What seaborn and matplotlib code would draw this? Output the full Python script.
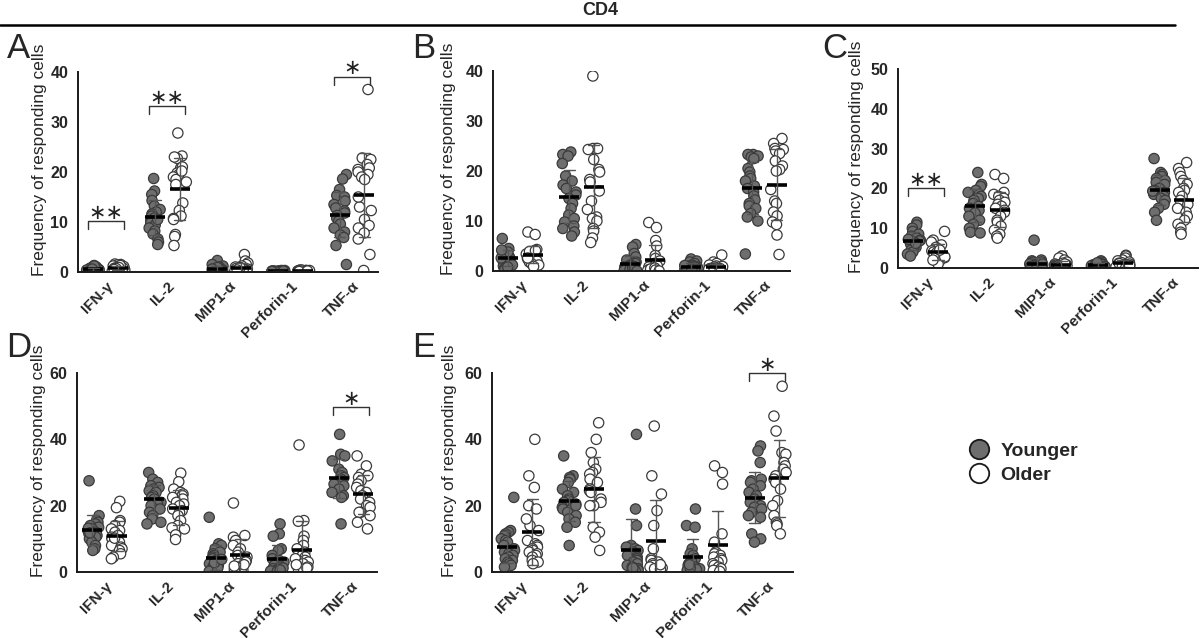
import numpy as np
import pandas as pd
import seaborn as sns
import matplotlib.pyplot as plt
from matplotlib.lines import Line2D

cytokines = ['IFN-γ', 'IL-2', 'MIP1-α', 'Perforin-1', 'TNF-α']
groups = ['Younger', 'Older']
panels = ['A', 'B', 'C', 'D', 'E']
y_max = [40, 40, 50, 60, 60]
y_step = [10, 10, 10, 20, 20]

# ---- panel A ----
A_ifng_y = [1.3, 1.0, 0.8, 0.6, 0.5, 0.4, 0.3, 0.3, 0.2, 0.2, 0.1, 0.1, 0.5, 0.7, 0.2, 0.9, 0.4, 1.2, 0.3, 0.6]
A_ifng_o = [1.6, 1.5, 1.4, 1.2, 1.0, 0.9, 0.8, 0.7, 0.6, 0.5, 0.4, 0.3, 1.1, 0.8, 0.6, 0.2, 1.3, 0.9, 0.7, 0.5]
A_il2_y = [18.7, 16.2, 15.5, 14.3, 13.2, 12.5, 12.0, 11.6, 11.2, 10.8, 10.3, 9.8, 9.4, 8.8, 8.2, 7.6, 6.6, 6.0, 5.5, 10.5]
A_il2_o = [27.8, 23.2, 22.7, 20.8, 19.8, 19.5, 19.0, 18.5, 18.0, 17.5, 21.0, 20.2, 13.8, 12.3, 11.2, 10.7, 10.5, 7.5, 7.1, 5.3, 23.0]
A_mip_y = [2.3, 1.5, 1.2, 1.0, 0.8, 0.6, 0.5, 0.4, 0.3, 0.2, 0.1, 0.1, 0.3, 0.5, 0.2, 0.7, 0.4, 0.9, 0.1, 0.6]
A_mip_o = [3.5, 2.2, 1.8, 1.5, 1.2, 1.0, 0.8, 0.6, 0.5, 0.4, 0.3, 0.2, 0.1, 0.1, 0.3, 0.5, 0.7, 0.9, 0.2, 0.4]
A_prf_y = [0.3, 0.2, 0.2, 0.1, 0.1, 0.1, 0.0, 0.0, 0.2, 0.1, 0.3, 0.1, 0.0, 0.2, 0.1, 0.1, 0.2, 0.0, 0.1, 0.2]
A_prf_o = [0.4, 0.3, 0.2, 0.2, 0.1, 0.1, 0.0, 0.3, 0.2, 0.1, 0.4, 0.1, 0.0, 0.2, 0.1, 0.3, 0.2, 0.0, 0.1, 0.2]
A_tnf_y = [19.5, 18.6, 16.5, 15.3, 15.0, 14.2, 13.5, 12.8, 12.2, 11.8, 11.3, 10.8, 10.2, 9.6, 8.8, 8.0, 7.4, 6.9, 5.3, 1.5]
A_tnf_o = [36.5, 22.8, 22.5, 21.5, 20.8, 20.5, 20.0, 19.5, 19.0, 18.5, 13.0, 12.3, 10.5, 9.3, 8.8, 7.8, 6.6, 3.5, 0.3, 15.0]

# ---- panel B ----
B_ifng_y = [6.5, 4.5, 4.0, 3.5, 3.2, 3.0, 2.8, 2.5, 2.2, 2.0, 1.8, 1.5, 1.2, 1.0, 0.5, 0.2, 3.8, 2.6, 4.2, 0.8]
B_ifng_o = [7.8, 7.3, 4.3, 4.0, 3.8, 3.6, 3.4, 3.2, 3.0, 2.8, 2.5, 2.2, 2.0, 1.8, 1.5, 1.2, 3.9, 2.6, 4.1, 0.9]
B_il2_y = [23.8, 23.3, 23.0, 21.5, 19.0, 18.0, 17.2, 16.5, 15.8, 15.2, 14.5, 13.5, 12.5, 11.2, 10.5, 9.8, 9.0, 8.5, 7.8, 7.0]
B_il2_o = [39.0, 24.5, 24.5, 24.5, 24.3, 22.3, 20.3, 19.8, 18.3, 17.8, 16.0, 14.0, 12.3, 10.8, 10.5, 10.0, 8.5, 8.0, 6.6, 5.7]
B_mip_y = [5.3, 4.8, 3.5, 2.8, 2.2, 1.8, 1.5, 1.2, 1.0, 0.8, 0.6, 0.5, 0.3, 0.2, 0.1, 0.1, 0.4, 0.7, 0.9, 0.0]
B_mip_o = [9.7, 8.7, 6.1, 5.0, 3.1, 2.5, 2.0, 1.5, 1.2, 1.0, 0.8, 0.5, 0.3, 0.2, 0.1, 0.1, 0.4, 0.6, 0.2, 0.0]
B_prf_y = [2.4, 2.0, 1.8, 1.5, 1.2, 1.0, 0.9, 0.8, 0.7, 0.6, 0.5, 0.4, 0.3, 0.2, 0.1, 1.1, 0.8, 0.6, 0.4, 0.3]
B_prf_o = [3.2, 1.8, 1.5, 1.2, 1.0, 0.8, 0.7, 0.6, 0.5, 0.4, 0.3, 0.2, 0.1, 0.1, 0.6, 0.4, 0.3, 0.2, 0.9, 0.5]
B_tnf_y = [23.3, 23.3, 23.0, 22.8, 22.5, 20.5, 19.8, 19.0, 18.5, 18.0, 17.0, 16.5, 15.8, 15.0, 14.2, 13.5, 13.0, 12.5, 11.5, 10.8, 10.0, 3.4]
B_tnf_o = [26.5, 25.5, 24.5, 24.3, 24.0, 23.5, 22.0, 21.0, 20.3, 20.0, 16.3, 14.0, 13.5, 11.8, 11.0, 9.8, 9.3, 7.2, 3.3]

# ---- panel C ----
C_ifng_y = [11.5, 10.8, 10.0, 9.2, 8.5, 8.0, 7.5, 7.0, 6.8, 6.5, 6.0, 5.5, 5.2, 4.8, 4.5, 4.0, 3.5, 3.0, 7.2, 6.2]
C_ifng_o = [9.2, 7.0, 6.5, 5.8, 5.2, 4.8, 4.3, 4.0, 3.6, 3.3, 3.0, 2.6, 2.2, 1.8, 1.5, 1.0, 3.8, 2.8, 4.5, 2.0]
C_il2_y = [24.0, 21.0, 20.5, 19.5, 19.0, 18.5, 18.0, 17.5, 17.0, 16.2, 15.5, 15.0, 14.5, 13.8, 13.0, 12.0, 11.0, 10.0, 9.0, 8.8]
C_il2_o = [23.5, 22.5, 19.0, 18.5, 18.0, 17.5, 17.0, 16.5, 16.0, 15.5, 15.0, 14.5, 14.0, 13.0, 12.0, 11.5, 10.5, 9.5, 8.5, 8.0, 7.5]
C_mip_y = [7.0, 2.0, 1.8, 1.5, 1.2, 1.0, 0.8, 0.6, 0.5, 0.4, 0.3, 0.2, 0.1, 0.8, 0.6, 0.4, 1.5, 0.3, 0.2, 1.0]
C_mip_o = [3.0, 2.5, 2.0, 1.5, 1.2, 1.0, 0.8, 0.6, 0.5, 0.4, 0.3, 0.2, 0.1, 0.8, 0.6, 0.4, 0.3, 0.2, 0.1, 1.0]
C_prf_y = [1.8, 1.5, 1.2, 1.0, 0.8, 0.7, 0.6, 0.5, 0.4, 0.3, 0.2, 0.1, 0.6, 0.5, 0.4, 0.9, 0.3, 0.2, 0.7, 1.3]
C_prf_o = [3.2, 3.0, 2.5, 2.0, 1.8, 1.5, 1.2, 1.0, 0.8, 0.6, 0.5, 0.4, 0.2, 1.3, 1.1, 0.9, 0.7, 0.3, 0.1, 0.6]
C_tnf_y = [27.5, 24.0, 23.5, 23.0, 22.5, 22.0, 21.5, 21.0, 20.0, 19.5, 19.0, 18.5, 18.0, 17.5, 17.0, 16.0, 15.0, 14.0, 12.0, 19.3]
C_tnf_o = [26.5, 25.0, 24.0, 23.0, 22.0, 21.0, 20.0, 19.5, 19.0, 18.0, 17.0, 16.0, 15.0, 14.0, 13.0, 12.0, 11.0, 10.0, 9.0, 8.5]

# ---- panel D ----
D_ifng_y = [27.5, 17.0, 15.5, 15.0, 14.5, 14.0, 13.5, 13.0, 12.5, 12.0, 11.5, 11.0, 10.5, 10.0, 9.0, 8.0, 7.0, 6.5, 13.2, 11.8]
D_ifng_o = [21.3, 19.4, 15.5, 15.0, 14.0, 13.0, 12.5, 12.0, 11.0, 10.5, 10.0, 9.5, 9.0, 8.0, 7.5, 7.0, 6.5, 5.5, 4.5, 4.0, 10.2]
D_il2_y = [30.0, 28.0, 27.0, 26.0, 25.5, 25.0, 24.5, 24.0, 23.0, 22.5, 22.0, 21.0, 20.5, 20.0, 19.0, 18.0, 17.0, 16.0, 15.0, 14.5]
D_il2_o = [29.8, 27.2, 25.0, 24.0, 23.5, 23.0, 22.5, 22.0, 21.0, 20.5, 20.0, 19.0, 18.5, 18.0, 17.0, 15.5, 14.0, 13.3, 13.0, 11.2, 9.8]
D_mip_y = [16.5, 8.5, 8.0, 7.0, 6.0, 5.5, 5.0, 4.5, 4.0, 3.5, 3.0, 2.5, 2.0, 1.5, 1.0, 0.5, 0.2, 1.2, 2.8, 3.8]
D_mip_o = [20.8, 11.0, 10.5, 9.5, 8.0, 7.0, 6.0, 5.0, 4.5, 4.0, 3.5, 3.0, 2.5, 2.0, 1.5, 1.0, 0.5, 0.2, 0.8, 1.8, 2.2]
D_prf_y = [14.5, 11.5, 10.8, 7.0, 6.5, 5.0, 4.0, 3.5, 3.0, 2.5, 2.0, 1.5, 1.0, 0.8, 0.5, 0.3, 0.1, 0.2, 1.2, 0.6]
D_prf_o = [38.3, 15.5, 15.3, 10.8, 9.5, 8.0, 7.0, 6.0, 5.0, 4.5, 4.0, 3.5, 3.0, 2.5, 2.0, 1.5, 1.0, 0.5, 0.8, 1.2, 2.2]
D_tnf_y = [41.5, 35.5, 35.0, 33.5, 31.0, 30.0, 29.0, 28.5, 28.0, 27.5, 27.0, 26.5, 26.0, 25.0, 24.0, 23.0, 22.5, 14.5]
D_tnf_o = [35.0, 32.0, 29.5, 29.0, 28.5, 27.5, 26.5, 25.5, 24.5, 24.0, 23.0, 22.0, 21.0, 20.0, 19.5, 18.0, 18.0, 17.0, 15.0, 13.0]

# ---- panel E ----
E_ifng_y = [22.5, 12.5, 12.0, 11.5, 11.0, 10.0, 9.5, 9.0, 8.0, 7.0, 6.5, 6.0, 5.5, 5.0, 4.5, 4.0, 3.5, 3.0, 2.5, 2.0, 1.5]
E_ifng_o = [40.0, 29.0, 25.5, 20.0, 19.0, 14.0, 12.5, 9.5, 8.5, 8.0, 7.5, 7.0, 6.5, 6.0, 5.5, 5.0, 4.5, 3.5, 3.0, 2.5, 16.0]
E_il2_y = [35.0, 29.0, 28.5, 28.0, 27.0, 25.0, 24.0, 23.0, 22.0, 21.5, 21.0, 20.5, 20.0, 19.5, 19.0, 18.0, 17.0, 16.0, 15.0, 13.5, 8.0]
E_il2_o = [45.0, 40.0, 36.0, 33.0, 31.0, 30.0, 29.5, 28.0, 27.0, 25.0, 24.5, 24.0, 22.0, 21.0, 20.0, 20.0, 13.5, 12.0, 10.5, 6.5]
E_mip_y = [41.5, 19.0, 14.0, 8.0, 7.5, 7.0, 6.5, 6.0, 5.0, 4.5, 4.0, 3.5, 3.0, 2.5, 2.0, 1.5, 1.0, 0.5, 0.3, 0.2, 1.2]
E_mip_o = [44.0, 29.0, 23.5, 18.5, 14.0, 7.0, 4.0, 3.5, 3.0, 2.5, 2.0, 1.8, 1.5, 1.2, 1.0, 0.8, 2.2]
E_prf_y = [19.0, 14.0, 13.5, 7.0, 5.5, 5.0, 4.0, 3.5, 3.0, 2.5, 2.0, 1.5, 1.0, 0.5, 0.3, 0.2, 0.8, 1.2, 2.2]
E_prf_o = [32.0, 30.0, 26.5, 11.5, 9.0, 6.0, 5.5, 5.0, 4.5, 4.0, 3.5, 3.0, 2.5, 2.0, 1.5, 1.0, 0.5, 0.2]
E_tnf_y = [38.0, 36.5, 33.0, 28.0, 27.5, 27.0, 26.0, 25.0, 24.0, 23.0, 22.0, 21.0, 20.0, 19.5, 19.0, 18.0, 17.0, 16.5, 11.5, 10.0, 9.0]
E_tnf_o = [56.0, 47.0, 42.5, 36.0, 35.5, 33.0, 32.0, 31.0, 30.0, 29.0, 28.0, 27.0, 25.0, 21.5, 20.0, 17.0, 15.0, 14.5, 14.0, 11.5]

# significance brackets
sig_panel = ['A', 'A', 'A', 'C', 'D', 'E']
sig_cytokine = ['IFN-γ', 'IL-2', 'TNF-α', 'IFN-γ', 'TNF-α', 'TNF-α']
sig_level = [10.2, 33.2, 39.1, 20.1, 49.7, 60.1]
sig_stars = ['∗∗', '∗∗', '∗', '∗∗', '∗', '∗']

panel_series = {
    'A': [A_ifng_y, A_ifng_o, A_il2_y, A_il2_o, A_mip_y, A_mip_o, A_prf_y, A_prf_o, A_tnf_y, A_tnf_o],
    'B': [B_ifng_y, B_ifng_o, B_il2_y, B_il2_o, B_mip_y, B_mip_o, B_prf_y, B_prf_o, B_tnf_y, B_tnf_o],
    'C': [C_ifng_y, C_ifng_o, C_il2_y, C_il2_o, C_mip_y, C_mip_o, C_prf_y, C_prf_o, C_tnf_y, C_tnf_o],
    'D': [D_ifng_y, D_ifng_o, D_il2_y, D_il2_o, D_mip_y, D_mip_o, D_prf_y, D_prf_o, D_tnf_y, D_tnf_o],
    'E': [E_ifng_y, E_ifng_o, E_il2_y, E_il2_o, E_mip_y, E_mip_o, E_prf_y, E_prf_o, E_tnf_y, E_tnf_o],
}


def panel_frame(series):
    rows = []
    for i, cyt in enumerate(cytokines):
        for j, grp in enumerate(groups):
            for v in series[2 * i + j]:
                rows.append((cyt, grp, v))
    return pd.DataFrame(rows, columns=['cytokine', 'group', 'value'])


sns.set_style('white')
plt.rcParams['font.family'] = ['Liberation Sans', 'DejaVu Sans']
np.random.seed(3)

W, H = 1200, 638
fig = plt.figure(figsize=(12, 6.38), dpi=100)

# axes boxes in pixels: left, bottom, width, height
boxes = {'A': (78, 272, 300, 200), 'B': (493, 271, 297, 200), 'C': (898, 268, 300, 199),
         'D': (77, 572, 300, 199), 'E': (492, 572, 301, 199)}
label_pos = {'A': (7, 58), 'B': (412, 58), 'C': (822, 58), 'D': (6, 357), 'E': (412, 357)}
ylabel_off = {'A': -31, 'B': -37, 'C': -34, 'D': -31, 'E': -35}

fill_colors = {'Younger': '#6e6e6e', 'Older': 'white'}
mean_colors = {'Younger': 'black', 'Older': 'black'}

for k, p in enumerate(panels):
    l, b, w, h = boxes[p]
    ax = fig.add_axes([l / W, 1 - b / H, w / W, h / H])
    df = panel_frame(panel_series[p])

    sns.stripplot(data=df, x='cytokine', y='value', hue='group', order=cytokines,
                  hue_order=groups, dodge=True, jitter=0.23, palette=fill_colors,
                  size=7.4, linewidth=0.9, edgecolor='#3a3a3a', legend=False, ax=ax, zorder=2)
    sns.pointplot(data=df, x='cytokine', y='value', hue='group', order=cytokines,
                  hue_order=groups, dodge=0.4, estimator='mean', errorbar='sd',
                  palette=mean_colors, marker='_', markersize=14.5, markeredgewidth=2.6,
                  linestyle='none', capsize=0.18,
                  err_kws={'color': '#555555', 'linewidth': 1.0},
                  legend=False, ax=ax)

    ax.set_xlim(-0.45, 4.42)
    ax.set_ylim(0, y_max[k])
    ax.set_yticks(np.arange(0, y_max[k] + 1, y_step[k]))
    ax.set_xlabel('')
    ax.set_ylabel('Frequency of responding cells', fontsize=12.5)
    ax.yaxis.set_label_coords(ylabel_off[p] / w, 0.56)
    sns.despine(ax=ax)
    for s in ['left', 'bottom']:
        ax.spines[s].set_linewidth(1.4)
        ax.spines[s].set_color('#1a1a1a')
    ax.tick_params(axis='both', direction='out', length=5, width=1.4, color='#1a1a1a', pad=2)
    ax.tick_params(axis='x', pad=0)
    for t in ax.get_yticklabels():
        t.set_fontweight('bold')
        t.set_fontsize(11.5)
    ax.set_xticks(range(len(cytokines)))
    ax.set_xticklabels(cytokines, rotation=45, ha='right', rotation_mode='anchor',
                       fontweight='bold', fontsize=11)

    # brackets
    for sp, sc, sl, ss in zip(sig_panel, sig_cytokine, sig_level, sig_stars):
        if sp != p:
            continue
        xc = cytokines.index(sc)
        d = y_max[k] * 0.04
        ax.plot([xc - 0.29, xc - 0.29, xc + 0.29, xc + 0.29], [sl - d, sl, sl, sl - d],
                color='#333333', lw=1.0, clip_on=False)
        ax.text(xc, sl - y_max[k] * 0.01, ss, ha='center', va='bottom', fontsize=15,
                family='DejaVu Sans', color='#222222', clip_on=False)

    lx, ly = label_pos[p]
    fig.text(lx / W, 1 - ly / H, p, fontsize=25, va='baseline', ha='left')

# header
fig.text(0.5, 1 - 15 / H, 'CD4', ha='center', va='baseline', fontweight='bold', fontsize=13)
fig.add_artist(Line2D([0, 1175 / W], [1 - 25 / H, 1 - 25 / H], color='black', lw=1.8,
                      transform=fig.transFigure))

handles = [Line2D([], [], ls='', marker='o', markersize=14, markerfacecolor='#6e6e6e',
                  markeredgecolor='#1a1a1a', markeredgewidth=1.3),
           Line2D([], [], ls='', marker='o', markersize=14, markerfacecolor='white',
                  markeredgecolor='#1a1a1a', markeredgewidth=1.3)]
fig.legend(handles, groups, loc='center left', bbox_to_anchor=(950 / W, 1 - 463 / H),
           frameon=False, prop={'weight': 'bold', 'size': 14}, handletextpad=0.5,
           labelspacing=0.3, handlelength=1.2)

fig.savefig('out.png', dpi=100)
